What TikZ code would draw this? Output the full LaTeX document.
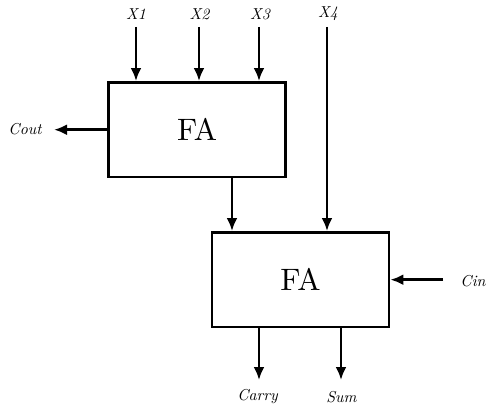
\documentclass[tikz,border=0pt]{standalone}
\usepackage{fontspec}
\usetikzlibrary{arrows.meta}
\newcommand{\mylab}[1]{\scalebox{1.58}{\itshape #1}}
\newcommand{\myfa}[1]{\scalebox{3.1}{#1}}
\begin{document}
\begin{tikzpicture}[x=1pt,y=1pt,
  fabox/.style={draw,line width=2.8pt,minimum width=177pt,minimum height=94.5pt,inner sep=0pt},
  lbl/.style={inner sep=0pt},
  arr/.style={line width=2.9pt,-{Latex[length=13pt,width=11pt]}}]
\useasboundingbox (0,0) rectangle (487,408);
\node[fabox] (b1) at (197.2,278.3) {\myfa{FA}};
\node[fabox] (b2) at (300.5,128.3) {\myfa{FA}};
% input labels
\node[lbl] (x1) at (136,394) {\mylab{X1}};
\node[lbl] (x2) at (199.5,394) {\mylab{X2}};
\node[lbl] (x3) at (260,394) {\mylab{X3}};
\node[lbl] (x4) at (328,394) {\mylab{X4}};
\coordinate (s1) at (136,381);
\coordinate (s2) at (199,381);
\coordinate (s3) at (259,381);
\coordinate (s4) at (327,381);
\draw[arr] (s1) -- (s1 |- b1.north);
\draw[arr] (s2) -- (s2 |- b1.north);
\draw[arr] (s3) -- (s3 |- b1.north);
\draw[arr] (s4) -- (s4 |- b2.north);
% carry between stages
\coordinate (m) at (232,0);
\draw[arr] (m |- b1.south) -- (m |- b2.north);
% Cout
\node[lbl] (cout) at (25,279) {\mylab{Cout}};
\coordinate (coutend) at (54,279);
\draw[arr] (b1.west) -- (b1.west -| coutend);
% Cin
\node[lbl] (cin) at (473,127) {\mylab{Cin}};
\coordinate (cinstart) at (443,127);
\draw[arr] (b2.east -| cinstart) -- (b2.east);
% outputs
\node[lbl] (carry) at (257.5,11) {\mylab{Carry}};
\node[lbl] (sum) at (341.5,11) {\mylab{Sum}};
\coordinate (ce) at (259,28);
\coordinate (se) at (341,28);
\draw[arr] (ce |- b2.south) -- (ce);
\draw[arr] (se |- b2.south) -- (se);
\end{tikzpicture}
\end{document}
